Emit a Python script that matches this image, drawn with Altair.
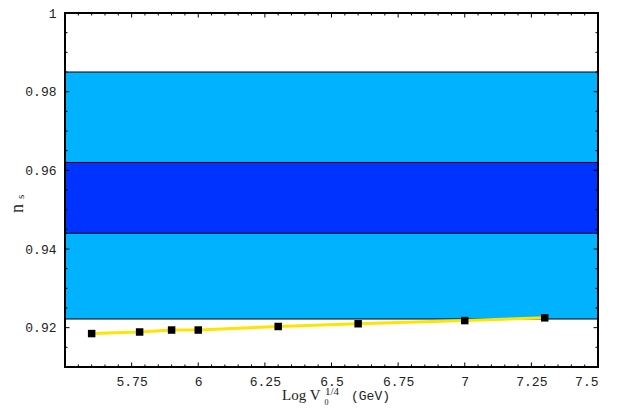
import altair as alt
import pandas as pd

# data
log_v = [5.60, 5.78, 5.90, 6.00, 6.30, 6.60, 7.00, 7.30]
n_s = [0.9185, 0.9189, 0.9194, 0.9194, 0.9203, 0.9210, 0.9218, 0.9225]

band_lo = [0.9222, 0.944]
band_hi = [0.985, 0.962]
band_col = ["#00B2FF", "#0033FF"]

x_major = [5.5, 5.75, 6.0, 6.25, 6.5, 6.75, 7.0, 7.25, 7.5]
x_labels = [5.75, 6.0, 6.25, 6.5, 6.75, 7.0, 7.25, 7.5]
x_minor = [round(5.5 + 0.05 * i, 2) for i in range(41)]
x_minor = [v for v in x_minor if v not in x_major]
y_major = [0.92, 0.94, 0.96, 0.98, 1.0]
y_minor = [round(0.91 + 0.005 * i, 3) for i in range(19)]
y_minor = [v for v in y_minor if v not in y_major]

W, H = 533, 354
MAJ, MIN = 4.5, 2.5

xs = alt.Scale(domain=[5.5, 7.5], nice=False, zero=False)
ys = alt.Scale(domain=[0.91, 1.0], nice=False, zero=False)

pts = pd.DataFrame({"x": log_v, "y": n_s})
bands = pd.DataFrame({"lo": band_lo, "hi": band_hi, "c": band_col})

xaxis = alt.Axis(values=x_labels, labelExpr="format(datum.value, '.3~f')", ticks=False,
                 domain=False, grid=False, title=None, labelFont="Liberation Mono",
                 labelFontSize=13, labelColor="#222", labelPadding=8)
yaxis = alt.Axis(values=y_major, labelExpr="datum.value == 1 ? '1' : format(datum.value, '.2f')",
                 ticks=False, domain=False, grid=False, title=None, labelFont="Liberation Mono",
                 labelFontSize=13, labelColor="#222", labelPadding=9)

band_layer = alt.Chart(bands).mark_rect(stroke="black", strokeWidth=1).encode(
    y=alt.Y("lo:Q", scale=ys, axis=yaxis),
    y2="hi:Q",
    color=alt.Color("c:N", scale=None),
)

line = alt.Chart(pts).mark_line(color="#FFE400", strokeWidth=3).encode(
    x=alt.X("x:Q", scale=xs, axis=xaxis),
    y=alt.Y("y:Q", scale=ys),
)
points = alt.Chart(pts).mark_square(color="black", size=56, opacity=1).encode(
    x=alt.X("x:Q", scale=xs),
    y=alt.Y("y:Q", scale=ys),
)

def xt(vals, length):
    d = pd.DataFrame({"v": vals})
    b = alt.Chart(d).mark_rule(color="black", strokeWidth=1).encode(
        x=alt.X("v:Q", scale=xs), y=alt.value(H), y2=alt.value(H - length))
    t = alt.Chart(d).mark_rule(color="black", strokeWidth=1).encode(
        x=alt.X("v:Q", scale=xs), y=alt.value(0), y2=alt.value(length))
    return [b, t]

def yt(vals, length):
    d = pd.DataFrame({"v": vals})
    l = alt.Chart(d).mark_rule(color="black", strokeWidth=1).encode(
        y=alt.Y("v:Q", scale=ys), x=alt.value(0), x2=alt.value(length))
    r = alt.Chart(d).mark_rule(color="black", strokeWidth=1).encode(
        y=alt.Y("v:Q", scale=ys), x=alt.value(W), x2=alt.value(W - length))
    return [l, r]

ticks = xt(x_major, MAJ) + xt(x_minor, MIN) + yt(y_major, MAJ) + yt(y_minor, MIN)

frame = alt.Chart(pts).mark_rect(fill=None, stroke="black", strokeWidth=1.3).encode(
    x=alt.value(0), x2=alt.value(W), y=alt.value(0), y2=alt.value(H))

def txt(s, x, y, font, size, angle=0, align="left"):
    return alt.Chart(pts.head(1)).mark_text(
        text=s, font=font, fontSize=size, align=align, baseline="alphabetic",
        color="#222", angle=angle).encode(x=alt.value(x), y=alt.value(y))

titles = [
    txt("Log V", 217, 387, "Liberation Serif", 15),
    txt("0", 259.5, 392, "Liberation Serif", 8),
    txt("1/4", 260, 382, "Liberation Serif", 11),
    txt("(GeV)", 286, 387, "Liberation Mono", 13),
    txt("n", -42, 200, "Liberation Serif", 18, angle=270),
    txt("s", -41, 186, "Liberation Serif", 11, angle=270),
]

chart = alt.layer(band_layer, line, points, *ticks, frame, *titles).properties(
    width=W, height=H,
    autosize=alt.AutoSizeParams(type="none"),
    padding={"left": 57, "top": 5, "right": 12, "bottom": 40},
).configure_view(stroke=None)

chart.save("out.html", embed_options={"renderer": "svg", "actions": False})
